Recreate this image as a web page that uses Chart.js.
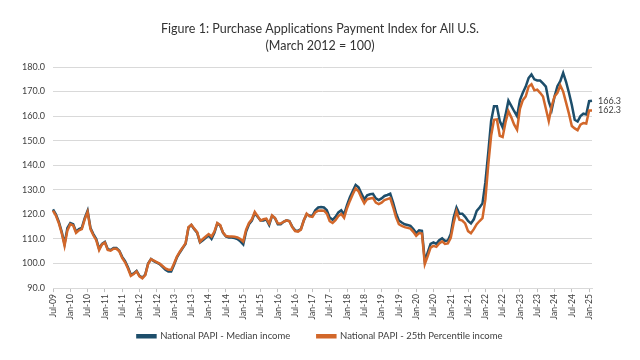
<!DOCTYPE html>
<html>
<head>
<meta charset="utf-8">
<script src="https://cdn.jsdelivr.net/npm/chart.js@4.4.1/dist/chart.umd.min.js"></script>
<style>
  html, body { margin: 0; padding: 0; background: #fff; }
  #wrap { width: 640px; height: 360px; }
</style>
</head>
<body>
<div id="wrap"><canvas id="chart" width="640" height="360"></canvas></div>
<script>
// monthly, Jul-09 .. Feb-25
const startYear = 2009;
const startMonth = 6; // July
const monthNames = ['Jan', 'Feb', 'Mar', 'Apr', 'May', 'Jun', 'Jul', 'Aug', 'Sep', 'Oct', 'Nov', 'Dec'];

const medianIncome = [
  122, 120, 117, 113, 108, 114.5, 116.5, 116, 113, 114, 114.5, 118.5,
  121.5, 114.5, 112, 110, 106, 108, 108.8, 105.8, 105.5, 106.3, 106.3, 105.2,
  102.7, 101, 98.5, 95.5, 96, 97, 95, 94.3, 95.5, 100, 101.8, 101,
  100.4, 99.8, 98.6, 97.5, 96.8, 96.8, 99.5, 102.5, 104.5, 106.3, 108, 114.6,
  115.7, 114, 112.6, 108.6, 109.5, 110.5, 111.5, 110, 112.5, 116.3, 115.5, 112.5,
  111, 110.6, 110.6, 110.4, 110, 109, 107.8, 113, 116, 117.5, 120.5, 119,
  117.5, 117.5, 118, 115.7, 119.4, 118.5, 116, 116, 117, 117.6, 117.3, 115,
  113.5, 113.3, 114, 117.5, 120, 119.5, 119.4, 121.7, 122.8, 123, 122.8, 121.7,
  118.7, 117.8, 119, 120.8, 121.7, 120, 123.8, 127, 129.5, 132, 131, 128.5,
  126.1, 127.8, 128.2, 128.4, 126.5, 125.8, 126.5, 127.5, 127.9, 128.4, 124.8, 120.5,
  117.5, 116.7, 116, 115.7, 115.3, 114, 112.4, 113.5, 113.3, 101, 104.5, 108,
  108.6, 108, 109.5, 110.3, 109.2, 109.4, 112, 118.7, 122.8, 120.3, 120.3, 119,
  117.3, 116.3, 118, 121.4, 122.8, 124.5, 133, 145, 158, 164, 164, 158,
  155.4, 160.5, 166.3, 164.2, 162, 160, 166.5, 169.5, 172, 175.5, 177, 175,
  174.5, 174.5, 173.3, 172, 166, 162.5, 168, 172.2, 174.2, 177.6, 174, 169.5,
  164.5, 158.5, 157.8, 160, 161, 160.7, 166.1, 166.3
];

const p25Income = [
  121.5, 119.5, 116.5, 112.5, 107.2, 113.5, 116, 115.5, 112.5, 113.5, 114, 118,
  121, 114, 111.5, 109.5, 105.5, 107.8, 108.5, 105.5, 105.2, 106, 106, 105,
  102.3, 100.5, 98, 95, 95.7, 96.8, 94.8, 94, 95.3, 99.8, 101.8, 101.2,
  100.6, 100, 99, 98, 97.5, 97.5, 100, 102.8, 104.8, 106.5, 108.3, 114.8,
  115.8, 114.2, 112.8, 108.8, 110, 111, 112, 111, 113, 116.5, 115.7, 112.6,
  111.2, 111, 111, 110.9, 110.6, 110, 109, 113.8, 116.5, 118, 121, 119.3,
  117.5, 118, 118.3, 116.3, 119.6, 118.5, 116.4, 116.3, 117, 117.6, 117.2, 114.8,
  113.2, 113, 113.8, 117.5, 120.3, 119.2, 119, 120.8, 121.5, 121.6, 121.5, 120.3,
  117.2, 116.5, 117.6, 119.3, 120.2, 118.6, 122.5, 125.5, 128.2, 130.6, 129.4, 126.8,
  124.5, 126.2, 126.5, 126.7, 124.8, 124.2, 124.8, 125.8, 126.2, 126.6, 123, 118.9,
  116, 115.3, 114.8, 114.5, 114.2, 112.9, 111.3, 112.4, 112.2, 99.8, 103, 106.5,
  107.2, 106.8, 108.2, 109, 108, 108.2, 110.5, 116.5, 121.2, 117.8, 117.5, 116.3,
  113.2, 112.3, 114, 116, 117.3, 118.5, 126, 140, 152, 158.5, 158.7, 152,
  151.5, 157.5, 162, 159.5, 156.5, 154.5, 163, 166.5, 168, 172, 173, 170.5,
  170.8, 169.5, 168, 163, 158, 164, 168, 169.5, 172.5, 170, 165.5, 161,
  156, 155, 154.3, 156.5, 157.2, 157, 162.3, 162.3
];

const yTicks = { min: 90, max: 180, step: 10 };

const labels = medianIncome.map((_, i) => {
  const m = (startMonth + i) % 12;
  const y = startYear + Math.floor((startMonth + i) / 12);
  return monthNames[m] + '-' + String(y % 100).padStart(2, '0');
});

const isHalfYear = (i) => {
  const m = (startMonth + i) % 12;
  return m === 0 || m === 6;
};

const BLUE = '#1d4e6b';
const ORANGE = '#d2672a';
const TEXT = '#404040';

// value labels at the end of each line
const endLabels = {
  id: 'endLabels',
  afterDatasetsDraw(chart) {
    const { ctx } = chart;
    ctx.save();
    ctx.font = '9px Lato';
    ctx.fillStyle = TEXT;
    ctx.textBaseline = 'middle';
    chart.data.datasets.forEach((ds, di) => {
      const meta = chart.getDatasetMeta(di);
      const pt = meta.data[meta.data.length - 1];
      ctx.fillText(ds.data[ds.data.length - 1].toFixed(1), pt.x + 6, pt.y);
    });
    ctx.restore();
  }
};

const legendDefaults = Chart.defaults.plugins.legend.labels.generateLabels;

new Chart(document.getElementById('chart'), {
  type: 'line',
  data: {
    labels,
    datasets: [
      { label: 'National PAPI - Median income', data: medianIncome, borderColor: BLUE, backgroundColor: BLUE, borderWidth: 2.5, pointRadius: 0, tension: 0, order: 1 },
      { label: 'National PAPI - 25th Percentile income', data: p25Income, borderColor: ORANGE, backgroundColor: ORANGE, borderWidth: 2.5, pointRadius: 0, tension: 0, order: 0 }
    ]
  },
  options: {
    responsive: false,
    animation: false,
    layout: { padding: { left: 14, right: 14, top: 12, bottom: 9 } },
    plugins: {
      title: {
        display: true,
        text: ['Figure 1: Purchase Applications Payment Index for All U.S.', '(March 2012 = 100)'],
        color: '#333',
        font: { family: 'Lato', size: 12.5, weight: 'normal', lineHeight: 1.4 },
        padding: { top: 8, bottom: 12 }
      },
      legend: {
        position: 'bottom',
        labels: {
          color: TEXT,
          font: { family: 'Lato', size: 9.5 },
          boxWidth: 18,
          boxHeight: 2,
          padding: 10,
          sort: (a, b) => a.datasetIndex - b.datasetIndex,
          // wider gap between the two entries
          generateLabels: (chart) => legendDefaults(chart).map((it) => (
            it.datasetIndex === 0 ? { ...it, text: it.text + '\u00a0\u00a0\u00a0\u00a0\u00a0\u00a0\u00a0' } : it
          ))
        }
      },
      tooltip: { enabled: false }
    },
    scales: {
      x: {
        grid: {
          drawOnChartArea: false,
          drawTicks: true,
          tickLength: 4,
          color: (c) => (isHalfYear(c.index) ? '#bfbfbf' : 'transparent')
        },
        border: { color: '#d9d9d9' },
        ticks: {
          autoSkip: false,
          maxRotation: 90,
          minRotation: 90,
          color: TEXT,
          font: { family: 'Lato', size: 8.5 },
          padding: 2,
          callback: (v, i) => (isHalfYear(i) ? labels[i] : '')
        }
      },
      y: {
        min: yTicks.min,
        max: yTicks.max,
        grid: { color: '#d9d9d9', drawTicks: false, lineWidth: 1 },
        border: { display: false },
        ticks: {
          stepSize: yTicks.step,
          color: TEXT,
          font: { family: 'Lato', size: 9 },
          padding: 8,
          callback: (v) => v.toFixed(1)
        }
      },
      // empty right axis: room for the end labels
      yRight: {
        position: 'right',
        min: yTicks.min,
        max: yTicks.max,
        grid: { drawOnChartArea: false, drawTicks: false },
        border: { display: false },
        ticks: { display: false },
        afterFit: (scale) => { scale.width = 34; }
      }
    }
  },
  plugins: [endLabels]
});
</script>
</body>
</html>
